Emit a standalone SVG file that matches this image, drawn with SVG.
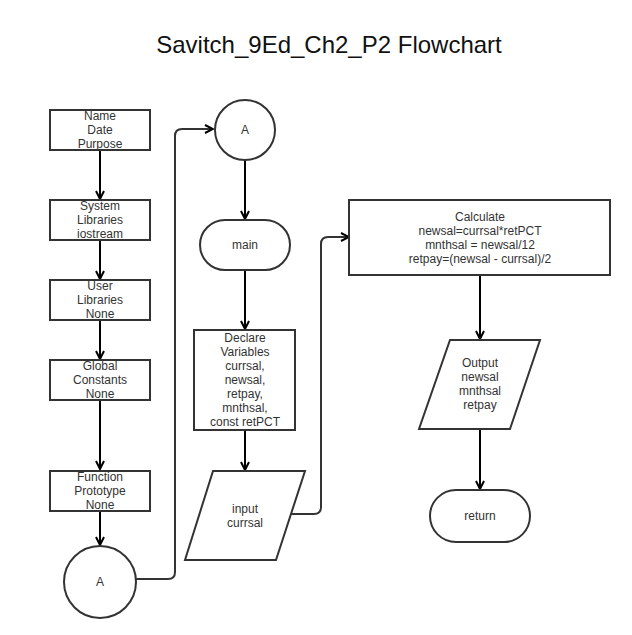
<svg xmlns="http://www.w3.org/2000/svg" width="632" height="635" viewBox="0 0 632 635">
<defs>
<marker id="arr" viewBox="0 0 10 10" refX="9" refY="5" markerWidth="10" markerHeight="10" markerUnits="userSpaceOnUse" orient="auto">
<path d="M1,1 L9,5 L1,9" fill="none" stroke="#000" stroke-width="2"/>
</marker>
<style>
.n{fill:#fff;stroke:#333;stroke-width:2}
.t{font-family:"Liberation Sans",Arial,sans-serif;font-size:12px;fill:#333;text-anchor:middle}
.c{fill:none;stroke:#000;stroke-width:2}
.c2{fill:none;stroke:#333;stroke-width:2}
</style>
</defs>
<rect width="632" height="635" fill="#fff"/>
<text x="329" y="53" style="font-family:'Liberation Sans',Arial,sans-serif;font-size:24px;fill:#111" text-anchor="middle">Savitch_9Ed_Ch2_P2 Flowchart</text>
<g id="connectors">
<path class="c" d="M100,150 V199" marker-end="url(#arr)"/>
<path class="c" d="M100,240 V279" marker-end="url(#arr)"/>
<path class="c" d="M100,320 V359" marker-end="url(#arr)"/>
<path class="c" d="M100,400 V469" marker-end="url(#arr)"/>
<path class="c" d="M100,511 V545" marker-end="url(#arr)"/>
<path class="c2" d="M136,579 H168 Q175,579 175,572 V136 Q175,129 182,129 H213" marker-end="url(#arr)"/>
<path class="c" d="M245,160 V219" marker-end="url(#arr)"/>
<path class="c" d="M245,270 V329" marker-end="url(#arr)"/>
<path class="c" d="M245,430 V470" marker-end="url(#arr)"/>
<path class="c2" d="M291,514 H314 Q321,514 321,507 V244 Q321,237 328,237 H349" marker-end="url(#arr)"/>
<path class="c" d="M480,275 V339" marker-end="url(#arr)"/>
<path class="c" d="M480,429 V489" marker-end="url(#arr)"/>
</g>
<g id="n1"><rect class="n" x="50" y="110" width="100" height="40"/>
<text class="t"><tspan x="100" y="120">Name</tspan><tspan x="100" y="134">Date</tspan><tspan x="100" y="148">Purpose</tspan></text></g>
<g id="n2"><rect class="n" x="50" y="200" width="100" height="40"/>
<text class="t"><tspan x="100" y="210">System</tspan><tspan x="100" y="224">Libraries</tspan><tspan x="100" y="238">iostream</tspan></text></g>
<g id="n3"><rect class="n" x="50" y="280" width="100" height="40"/>
<text class="t"><tspan x="100" y="290">User</tspan><tspan x="100" y="304">Libraries</tspan><tspan x="100" y="318">None</tspan></text></g>
<g id="n4"><rect class="n" x="50" y="360" width="100" height="40"/>
<text class="t"><tspan x="100" y="370">Global</tspan><tspan x="100" y="384">Constants</tspan><tspan x="100" y="398">None</tspan></text></g>
<g id="n5"><rect class="n" x="50" y="471" width="100" height="40"/>
<text class="t"><tspan x="100" y="481">Function</tspan><tspan x="100" y="495">Prototype</tspan><tspan x="100" y="509">None</tspan></text></g>
<g id="n6"><circle class="n" cx="100" cy="582" r="36"/>
<text class="t" x="100" y="586">A</text></g>
<g id="n7"><circle class="n" cx="245" cy="130" r="30"/>
<text class="t" x="245" y="134">A</text></g>
<g id="n8"><rect class="n" x="200" y="220" width="90" height="50" rx="25" ry="25"/>
<text class="t" x="245" y="249">main</text></g>
<g id="n9"><rect class="n" x="194" y="330" width="101" height="100"/>
<text class="t"><tspan x="245" y="342">Declare</tspan><tspan x="245" y="356">Variables</tspan><tspan x="245" y="370">currsal,</tspan><tspan x="245" y="384">newsal,</tspan><tspan x="245" y="398">retpay,</tspan><tspan x="245" y="412">mnthsal,</tspan><tspan x="245" y="426">const retPCT</tspan></text></g>
<g id="n10"><polygon class="n" points="213,471 305,471 276,560 185,560"/>
<text class="t"><tspan x="245" y="513">input</tspan><tspan x="245" y="527">currsal</tspan></text></g>
<g id="n11"><rect class="n" x="349" y="200" width="261" height="75"/>
<text class="t"><tspan x="480" y="221">Calculate</tspan><tspan x="480" y="235">newsal=currsal*retPCT</tspan><tspan x="480" y="249">mnthsal = newsal/12</tspan><tspan x="480" y="263">retpay=(newsal - currsal)/2</tspan></text></g>
<g id="n12"><polygon class="n" points="450,340 540,340 510,429 419,429"/>
<text class="t"><tspan x="480" y="367">Output</tspan><tspan x="480" y="381">newsal</tspan><tspan x="480" y="395">mnthsal</tspan><tspan x="480" y="409">retpay</tspan></text></g>
<g id="n13"><rect class="n" x="430" y="490" width="100" height="52" rx="26" ry="26"/>
<text class="t" x="480" y="520">return</text></g>
</svg>
